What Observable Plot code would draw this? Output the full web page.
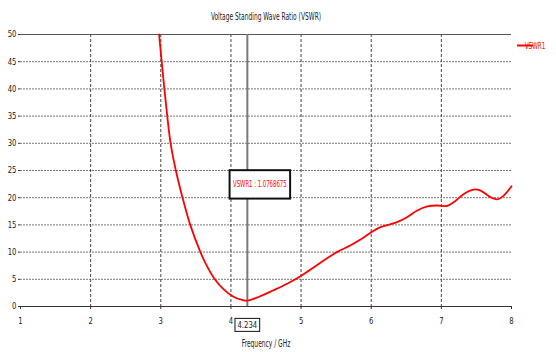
<!DOCTYPE html>
<html><head><meta charset="utf-8">
<script src="https://cdn.jsdelivr.net/npm/d3@7"></script>
<script src="https://cdn.jsdelivr.net/npm/@observablehq/plot@0.6"></script>
<style>body{margin:0;background:#fff} svg{display:block}</style>
</head><body><div id="chart"></div>
<script>
const freq = [2.976, 3.013, 3.051, 3.092, 3.14, 3.215, 3.31, 3.42, 3.565, 3.655, 3.77, 3.89, 4.03, 4.16, 4.234, 4.41, 4.60, 4.80, 5.01, 5.22, 5.51, 5.70, 5.84, 5.99, 6.13, 6.37, 6.51, 6.65, 6.80, 6.94, 7.08, 7.18, 7.32, 7.46, 7.56, 7.70, 7.80, 7.89, 8.0];
const vswr = [50, 45, 40, 35, 30, 25, 20, 15, 10, 7.5, 5, 3.25, 1.84, 1.2, 1.077, 1.84, 2.94, 4.17, 5.7, 7.54, 10.0, 11.2, 12.25, 13.55, 14.58, 15.5, 16.4, 17.6, 18.4, 18.57, 18.5, 19.2, 20.7, 21.5, 21.3, 20.1, 19.7, 20.4, 22.1];
const xTicks = [1, 2, 3, 4, 5, 6, 7, 8];
const yTicks = [0, 5, 10, 15, 20, 25, 30, 35, 40, 45, 50];
const xGrid = [2, 3, 4, 5, 6, 7];
const yGrid = [5, 10, 15, 20, 25, 30, 35, 40, 45];
const markerFreq = [4.234];
const markerLabel = ["4.234"];
const markerValueLabel = ["VSWR1 : 1.0768675"];
const seriesName = "VSWR1";
const title = ["Voltage Standing Wave Ratio (VSWR)"];
const xLabel = ["Frequency / GHz"];

const data = freq.map((f, i) => ({f, v: vswr[i]}));
const font = "'DejaVu Sans Condensed','DejaVu Sans',sans-serif";

const chart = Plot.plot({
  width: 556, height: 352,
  marginTop: 34, marginLeft: 20, marginRight: 45, marginBottom: 46,
  style: {fontFamily: font, fontSize: "9px", background: "#fff", color: "#222"},
  x: {domain: [1, 8]},
  y: {domain: [0, 50]},
  marks: [
    Plot.ruleY(yGrid, {stroke: "#777", strokeDasharray: "2,1", strokeWidth: 1}),
    Plot.ruleX(xGrid, {stroke: "#444", strokeDasharray: "3,2", strokeWidth: 1}),
    Plot.ruleY([0], {stroke: "#333", strokeWidth: 1.2}),
    Plot.ruleY([50], {stroke: "#555", strokeWidth: 1.2}),
    Plot.ruleX(markerFreq, {stroke: "#7a7a7a", strokeWidth: 2}),
    Plot.line(data, {x: "f", y: "v", stroke: "#ff0000", strokeWidth: 1.8, curve: "catmull-rom"}),
    Plot.axisX(xTicks, {tickSize: 3, tickPadding: 8, label: null, stroke: "#333"}),
    Plot.axisY(yTicks, {tickSize: 2, tickPadding: 2, label: null, stroke: "#333"}),
    Plot.text(markerLabel, {x: markerFreq, text: d => d, frameAnchor: "bottom", lineAnchor: "middle", dy: 18.5, fill: "#222"}),
    Plot.text(markerValueLabel, {x: markerFreq, text: d => d, frameAnchor: "top", lineAnchor: "middle", dy: 150, dx: 12.5, fill: "#ff0000"}),
    Plot.text(title, {text: d => d, frameAnchor: "top", lineAnchor: "middle", dy: -18, fontSize: 10, fill: "#222"}),
    Plot.text(xLabel, {text: d => d, frameAnchor: "bottom", lineAnchor: "middle", dy: 37, fontSize: 10, fill: "#222"})
  ]
});
document.getElementById("chart").appendChild(chart);

const svg = d3.select(chart);

// horizontally condense text to mimic the narrow UI font of the original
svg.selectAll("text").each(function() {
  const t = this.textContent;
  const numeric = /^[\d.\s]+$/.test(t);
  const len = this.getComputedTextLength();
  if (len > 0) {
    d3.select(this).attr("textLength", len * (numeric ? 0.85 : 0.66)).attr("lengthAdjust", "spacingAndGlyphs");
  }
});

function boxAround(label, padX, halfH, sw) {
  svg.selectAll("text").filter(function() { return this.textContent === label; }).each(function() {
    const b = this.getBBox();
    const cy = b.y + b.height / 2;
    const r = d3.select(this.parentNode).insert("rect", () => this)
      .attr("x", b.x - padX).attr("y", cy - halfH)
      .attr("width", b.width + 2 * padX).attr("height", 2 * halfH)
      .attr("fill", "#fff").attr("stroke", "#111").attr("stroke-width", sw);
    const tf = this.getAttribute("transform");
    if (tf) r.attr("transform", tf);
  });
}
boxAround(markerLabel[0], 2.5, 6.5, 1);
boxAround(markerValueLabel[0], 3.5, 14.2, 2);

// legend
const lx = 556 - 45 + 6;
const leg = svg.append("g").attr("aria-label", "legend");
leg.append("line").attr("x1", lx).attr("x2", lx + 16).attr("y1", 45.5).attr("y2", 45.5)
  .attr("stroke", "#ff0000").attr("stroke-width", 2);
const lt = leg.append("text").attr("x", lx + 18).attr("y", 48.5).attr("fill", "#ff0000")
  .attr("font-size", 9).text(seriesName);
lt.attr("textLength", lt.node().getComputedTextLength() * 0.7).attr("lengthAdjust", "spacingAndGlyphs");
</script>
</body></html>
